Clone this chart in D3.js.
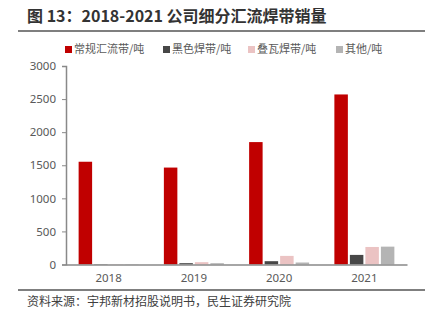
<!DOCTYPE html>
<html><head><meta charset="utf-8">
<script src="https://cdn.jsdelivr.net/npm/d3@7/dist/d3.min.js"></script>
<style>body{margin:0;background:#fff;}svg{display:block;font-family:"Noto Sans CJK SC","Noto Sans",sans-serif;}</style>
</head><body><svg id="c" width="430" height="326"></svg>
<script>
const years = ["2018","2019","2020","2021"];
const seriesNames = ["常规汇流带/吨","黑色焊带/吨","叠瓦焊带/吨","其他/吨"];
const regular = [1553, 1465, 1850, 2570];
const black = [5, 20, 50, 145];
const shingled = [3, 35, 130, 265];
const other = [3, 20, 30, 270];
const yTicks = [0, 500, 1000, 1500, 2000, 2500, 3000];
const colors = ["#C00000", "#474747", "#EBC3C3", "#B4B4B4"];
const titleText = "图 13：2018-2021 公司细分汇流焊带销量";
const sourceText = "资料来源：宇邦新材招股说明书，民生证券研究院";

(function () {
const svg = d3.select("#c");
const allSeries = [regular, black, shingled, other];

svg.append("text").attr("x", 27).attr("y", 22).attr("font-size", 16).attr("font-weight", "bold")
  .attr("fill", "#333").text(titleText);
svg.append("line").attr("x1", 18).attr("x2", 425).attr("y1", 31).attr("y2", 31)
  .attr("stroke", "#555").attr("stroke-width", 1.5);

const pl = 66, pr = 407, pt = 66, pb = 264.5;
const x = d3.scaleBand().domain(years).range([pl, pr]).paddingInner(0).paddingOuter(0);
const x1 = d3.scaleBand().domain(d3.range(4)).range([0, 60]).paddingInner(0.13);
const y = d3.scaleLinear().domain([0, 3000]).range([pb, pt]);

const ya = svg.append("g").attr("transform", `translate(${pl},0)`)
  .call(d3.axisLeft(y).tickValues(yTicks).tickFormat(d3.format("d")).tickSize(4).tickPadding(6));
ya.select(".domain").attr("stroke", "#898989").attr("stroke-width", 1.5);
ya.selectAll(".tick line").attr("stroke", "#898989");
ya.selectAll(".tick text").attr("font-size", 11.5).attr("fill", "#595959")
  .attr("font-family", "'Noto Sans','DejaVu Sans',sans-serif");

const groups = svg.append("g").selectAll("g").data(years).join("g")
  .attr("transform", d => `translate(${x(d) + (x.bandwidth() - 60) / 2},0)`);
groups.selectAll("rect").data((d, i) => allSeries.map((s, k) => ({k, v: s[i]}))).join("rect")
  .attr("x", d => x1(d.k)).attr("width", x1.bandwidth())
  .attr("y", d => y(d.v)).attr("height", d => pb - y(d.v))
  .attr("fill", d => colors[d.k]);

const xa = svg.append("g").attr("transform", `translate(0,${pb})`)
  .call(d3.axisBottom(x).tickSize(0).tickPadding(9));
xa.select(".domain").attr("stroke", "#898989").attr("stroke-width", 1.5);
xa.selectAll(".tick text").attr("font-size", 11.5).attr("fill", "#595959")
  .attr("font-family", "'Noto Sans','DejaVu Sans',sans-serif");

const legX = [65, 163, 248, 336];
const leg = svg.append("g").selectAll("g").data(seriesNames).join("g")
  .attr("transform", (d, i) => `translate(${legX[i]},53)`);
leg.append("rect").attr("x", 0).attr("y", -7).attr("width", 7).attr("height", 7)
  .attr("fill", (d, i) => colors[i]);
leg.append("text").attr("x", 9).attr("y", 0).attr("font-size", 11).attr("fill", "#595959").text(d => d);

svg.append("line").attr("x1", 18).attr("x2", 425).attr("y1", 290).attr("y2", 290)
  .attr("stroke", "#555").attr("stroke-width", 1.5);
svg.append("text").attr("x", 27).attr("y", 306).attr("font-size", 12).attr("fill", "#404040").text(sourceText);
})();
</script></body></html>
